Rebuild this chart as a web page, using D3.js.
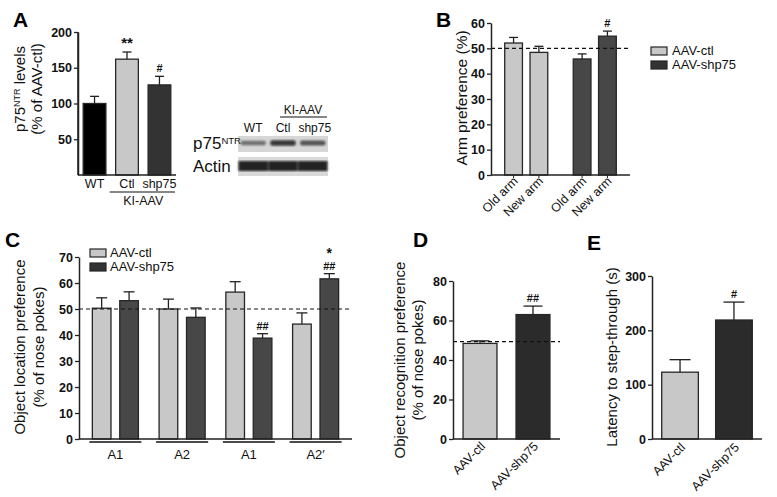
<!DOCTYPE html>
<html><head><meta charset="utf-8">
<script src="https://cdn.jsdelivr.net/npm/d3@7/dist/d3.min.js"></script>
<style>body{margin:0;background:#fff}svg{display:block}</style>
</head><body>
<svg id="fig" width="777" height="497"></svg>
<script>
// ---------- DATA ----------
const panelA_categories = ["WT", "Ctl", "shp75"];
const panelA_values = [100, 162, 126];
const panelA_errors = [10, 10, 12];
const panelA_sig = ["", "**", "#"];
const panelA_ticks = [50, 100, 150, 200];

const blot_lanes = ["WT", "Ctl", "shp75"];
const blot_p75 = [0.55, 0.85, 0.7];
const blot_actin = [0.95, 0.95, 0.95];

const panelB_categories = ["Old arm", "New arm", "Old arm", "New arm"];
const panelB_groups = ["AAV-ctl", "AAV-shp75"];
const panelB_values = [52.1, 48.4, 45.8, 54.8];
const panelB_errors = [2.2, 2.4, 2.0, 2.0];
const panelB_sig = ["", "", "", "#"];
const panelB_ticks = [0, 10, 20, 30, 40, 50, 60];

const panelC_groups = ["A1", "A2", "A1", "A2\u2032"];
const panelC_series = ["AAV-ctl", "AAV-shp75"];
const panelC_ctl = [50.3, 50.0, 56.5, 44.2];
const panelC_ctlErr = [4.0, 3.8, 4.0, 4.3];
const panelC_shp = [53.2, 46.8, 38.8, 61.6];
const panelC_shpErr = [3.4, 3.6, 1.7, 2.0];
const panelC_sig = ["", "", "##", "##"];
const panelC_ticks = [0, 10, 20, 30, 40, 50, 60, 70];

const panelD_categories = ["AAV-ctl", "AAV-shp75"];
const panelD_values = [48.4, 63.0];
const panelD_errors = [1.3, 4.3];
const panelD_sig = ["", "##"];
const panelD_ticks = [0, 20, 40, 60, 80];

const panelE_categories = ["AAV-ctl", "AAV-shp75"];
const panelE_values = [123, 219];
const panelE_errors = [23, 33];
const panelE_sig = ["", "#"];
const panelE_ticks = [0, 100, 200, 300];

// ---------- STYLE ----------
const FONT = "'Liberation Sans', Arial, Helvetica, sans-serif";
const LIGHT = "#c8c8c8", DARK = "#474747", DARKER = "#2b2b2b", EDGE = "#262626";
const svg = d3.select("#fig").attr("font-family", FONT);

function yAxis(scale, x, ticks) {
  const g = svg.append("g").attr("transform", `translate(${x},0)`)
    .call(d3.axisLeft(scale).tickValues(ticks).tickSize(4).tickSizeOuter(0).tickPadding(2));
  g.select(".domain").attr("stroke", "#222").attr("stroke-width", 1.5);
  g.selectAll(".tick line").attr("stroke", "#222").attr("stroke-width", 1.3);
  g.selectAll(".tick text").attr("font-family", FONT).attr("font-weight", "bold")
    .attr("font-size", 12.5).attr("fill", "#111");
  return g;
}
function baseline(x1, x2, y) {
  svg.append("line").attr("x1", x1).attr("x2", x2).attr("y1", y).attr("y2", y)
    .attr("stroke", "#222").attr("stroke-width", 1.5);
}
function bars(items, y) {
  const g = svg.append("g");
  g.selectAll("line.err").data(items).join("line")
    .attr("x1", d => d.x + d.w / 2).attr("x2", d => d.x + d.w / 2)
    .attr("y1", d => y(d.v)).attr("y2", d => y(d.v + d.e))
    .attr("stroke", "#222").attr("stroke-width", 1.3);
  g.selectAll("line.cap").data(items).join("line")
    .attr("x1", d => d.x + d.w / 2 - d.cap / 2).attr("x2", d => d.x + d.w / 2 + d.cap / 2)
    .attr("y1", d => y(d.v + d.e)).attr("y2", d => y(d.v + d.e))
    .attr("stroke", "#222").attr("stroke-width", 1.3);
  g.selectAll("rect").data(items).join("rect")
    .attr("x", d => d.x).attr("width", d => d.w)
    .attr("y", d => y(d.v)).attr("height", d => y(0) - y(d.v))
    .attr("fill", d => d.fill).attr("stroke", EDGE).attr("stroke-width", 1.3);
  g.selectAll("text").data(items.filter(d => d.sig)).join("text")
    .attr("x", d => d.x + d.w / 2).attr("y", d => y(d.v + d.e) - 4)
    .attr("text-anchor", "middle").attr("font-size", d => d.sig.includes("*") ? 15 : 11)
    .attr("font-weight", "bold").attr("fill", "#111").text(d => d.sig);
}
function dashed(x1, x2, yv) {
  svg.append("line").attr("x1", x1).attr("x2", x2).attr("y1", yv).attr("y2", yv)
    .attr("stroke", "#111").attr("stroke-width", 1.2).attr("stroke-dasharray", "4,3");
}
function yTitle(lines, xs, cy, size) {
  lines.forEach((t, i) => {
    svg.append("text").attr("transform", `translate(${xs[i]},${cy}) rotate(-90)`)
      .attr("text-anchor", "middle").attr("font-size", size).attr("fill", "#111").text(t);
  });
}
function letter(t, x, y) {
  svg.append("text").attr("x", x).attr("y", y).attr("font-size", 21)
    .attr("font-weight", "bold").attr("fill", "#000").text(t);
}
function rotLabels(cats, xs, y, dx) {
  cats.forEach((c, i) => {
    svg.append("text").attr("transform", `translate(${xs[i] + dx},${y}) rotate(-45)`)
      .attr("text-anchor", "end").attr("font-size", 12.5).attr("fill", "#111").text(c);
  });
}

// ---------- PANEL A ----------
letter("A", 13, 27);
const yA = d3.scaleLinear().domain([0, 200]).range([175, 32]);
const xA = d3.scaleBand().domain(panelA_categories).range([78, 176]).paddingInner(0.3).paddingOuter(0.16);
const colA = ["#000000", LIGHT, "#333333"];
bars(panelA_categories.map((c, i) => ({x: xA(c), w: xA.bandwidth(), v: panelA_values[i], e: panelA_errors[i],
  fill: colA[i], sig: panelA_sig[i], cap: 9})), yA);
yAxis(yA, 78, panelA_ticks);
svg.append("line").attr("x1", 78).attr("x2", 78).attr("y1", yA(0)).attr("y2", yA(200)).attr("stroke", "#222").attr("stroke-width", 1.5);
baseline(78, 176, yA(0));
panelA_categories.forEach(c => {
  svg.append("text").attr("x", xA(c) + xA.bandwidth() / 2).attr("y", 188).attr("text-anchor", "middle")
    .attr("font-size", 12.5).attr("fill", "#111").text(c);
});
svg.append("line").attr("x1", xA("Ctl") - 6).attr("x2", 175).attr("y1", 192).attr("y2", 192).attr("stroke", "#111").attr("stroke-width", 1.2);
svg.append("text").attr("x", (xA("Ctl") + xA("shp75") + xA.bandwidth()) / 2).attr("y", 205).attr("text-anchor", "middle")
  .attr("font-size", 12.5).attr("fill", "#111").text("KI-AAV");
{
  const t = svg.append("text").attr("transform", "translate(25,89) rotate(-90)").attr("text-anchor", "middle")
    .attr("font-size", 15).attr("fill", "#111");
  t.append("tspan").text("p75");
  t.append("tspan").attr("baseline-shift", "super").attr("font-size", 9).text("NTR");
  t.append("tspan").text(" levels");
  svg.append("text").attr("transform", "translate(42,89) rotate(-90)").attr("text-anchor", "middle")
    .attr("font-size", 15).attr("fill", "#111").text("(% of AAV-ctl)");
}

// ---------- WESTERN BLOT ----------
const defs = svg.append("defs");
defs.append("filter").attr("id", "blur").append("feGaussianBlur").attr("stdDeviation", 1.2);
const xBlot = d3.scaleBand().domain(blot_lanes).range([238, 328]).paddingInner(0.08).paddingOuter(0.05);
svg.append("rect").attr("x", 238).attr("y", 136).attr("width", 90).attr("height", 16).attr("fill", "#d6d6d6");
svg.append("rect").attr("x", 238).attr("y", 157).attr("width", 90).attr("height", 19).attr("fill", "#d9d9d9");
const band = d3.scaleLinear().domain([0, 1]).range(["#d6d6d6", "#1a1a1a"]);
svg.append("g").attr("filter", "url(#blur)").selectAll("rect").data(blot_lanes).join("rect")
  .attr("x", d => xBlot(d) + 1).attr("width", xBlot.bandwidth() - 2)
  .attr("y", (d, i) => 143 - 1.5 - blot_p75[i] * 1.5).attr("height", (d, i) => 3 + blot_p75[i] * 3)
  .attr("rx", 2).attr("fill", (d, i) => band(blot_p75[i]));
svg.append("g").attr("filter", "url(#blur)").selectAll("rect").data(blot_lanes).join("rect")
  .attr("x", d => xBlot(d) - 1).attr("width", xBlot.bandwidth() + 2)
  .attr("y", 161).attr("height", 10)
  .attr("fill", (d, i) => band(blot_actin[i]));
blot_lanes.forEach(l => {
  svg.append("text").attr("x", xBlot(l) + xBlot.bandwidth() / 2 + (l === "shp75" ? 2 : 0)).attr("y", 132).attr("text-anchor", "middle")
    .attr("font-size", 12).attr("fill", "#111").text(l);
});
svg.append("line").attr("x1", 280).attr("x2", 327).attr("y1", 117).attr("y2", 117).attr("stroke", "#111").attr("stroke-width", 1.2);
svg.append("text").attr("x", 303).attr("y", 114).attr("text-anchor", "middle").attr("font-size", 12).attr("fill", "#111").text("KI-AAV");
{
  const t = svg.append("text").attr("x", 193).attr("y", 149).attr("font-size", 17).attr("fill", "#111");
  t.append("tspan").text("p75");
  t.append("tspan").attr("baseline-shift", "super").attr("font-size", 9.5).text("NTR");
  svg.append("text").attr("x", 193).attr("y", 172).attr("font-size", 17).attr("fill", "#111").text("Actin");
}

// ---------- PANEL B ----------
letter("B", 436, 27);
const yB = d3.scaleLinear().domain([0, 60]).range([175, 23]);
const xBg = d3.scaleBand().domain(panelB_groups).range([491, 630]).paddingInner(0.372).paddingOuter(0.2);
const xBi = d3.scaleBand().domain([0, 1]).range([0, xBg.bandwidth()]).paddingInner(0.3).paddingOuter(0);
const itemsB = panelB_categories.map((c, i) => {
  const gname = panelB_groups[Math.floor(i / 2)];
  return {x: xBg(gname) + xBi(i % 2), w: xBi.bandwidth(), v: panelB_values[i], e: panelB_errors[i],
    fill: i < 2 ? LIGHT : DARK, sig: panelB_sig[i], cap: 9};
});
bars(itemsB, yB);
dashed(491, 630, yB(50));
yAxis(yB, 491, panelB_ticks);
baseline(491, 630, yB(0));
itemsB.forEach(d => {
  svg.append("line").attr("x1", d.x + d.w / 2).attr("x2", d.x + d.w / 2).attr("y1", yB(0)).attr("y2", yB(0) + 3)
    .attr("stroke", "#222").attr("stroke-width", 1);
});
rotLabels(panelB_categories, itemsB.map(d => d.x + d.w / 2), 182, 5);
yTitle(["Arm preference (%)"], [467], 98, 15.5);
[LIGHT, DARK].forEach((c, i) => {
  svg.append("rect").attr("x", 651).attr("y", 47 + i * 14).attr("width", 16).attr("height", 8)
    .attr("fill", i === 0 ? LIGHT : "#333").attr("stroke", EDGE).attr("stroke-width", 1.2);
  svg.append("text").attr("x", 672).attr("y", 55 + i * 14).attr("font-size", 13).attr("fill", "#111").text(panelB_groups[i]);
});

// ---------- PANEL C ----------
letter("C", 5, 247);
const yC = d3.scaleLinear().domain([0, 70]).range([439, 257]);
const xCg = d3.scaleBand().domain(d3.range(panelC_groups.length)).range([79, 352]).paddingInner(0.31).paddingOuter(0.2);
const xCi = d3.scaleBand().domain([0, 1]).range([0, xCg.bandwidth()]).paddingInner(0.32).paddingOuter(0);
const itemsC = [];
panelC_groups.forEach((g, i) => {
  itemsC.push({x: xCg(i) + xCi(0), w: xCi.bandwidth(), v: panelC_ctl[i], e: panelC_ctlErr[i], fill: LIGHT, sig: "", cap: 11});
  itemsC.push({x: xCg(i) + xCi(1), w: xCi.bandwidth(), v: panelC_shp[i], e: panelC_shpErr[i], fill: DARK, sig: panelC_sig[i], cap: 11});
});
bars(itemsC, yC);
{
  const d = itemsC[7];
  svg.append("text").attr("x", d.x + d.w / 2).attr("y", yC(d.v + d.e) - 16).attr("text-anchor", "middle")
    .attr("font-size", 14).attr("font-weight", "bold").attr("fill", "#111").text("*");
}
dashed(79, 352, yC(50));
yAxis(yC, 79, panelC_ticks);
baseline(79, 352, yC(0));
panelC_groups.forEach((g, i) => {
  svg.append("line").attr("x1", xCg(i) - 3).attr("x2", xCg(i) + xCg.bandwidth() + 3).attr("y1", 442).attr("y2", 442)
    .attr("stroke", "#111").attr("stroke-width", 1.5);
  svg.append("text").attr("x", xCg(i) + xCg.bandwidth() / 2).attr("y", 459).attr("text-anchor", "middle")
    .attr("font-size", 13).attr("fill", "#111").text(g);
});
yTitle(["Object location preference", "(% of nose pokes)"], [25, 44], 347, 15);
[LIGHT, "#333"].forEach((c, i) => {
  svg.append("rect").attr("x", 90).attr("y", 249 + i * 14).attr("width", 16).attr("height", 8)
    .attr("fill", c).attr("stroke", EDGE).attr("stroke-width", 1.2);
  svg.append("text").attr("x", 110).attr("y", 257 + i * 14).attr("font-size", 13).attr("fill", "#111").text(panelC_series[i]);
});

// ---------- PANEL D ----------
letter("D", 413, 247);
const yD = d3.scaleLinear().domain([0, 80]).range([439, 281]);
const xD = d3.scaleBand().domain(panelD_categories).range([453, 560]).paddingInner(0.36).paddingOuter(0.19);
bars(panelD_categories.map((c, i) => ({x: xD(c), w: xD.bandwidth(), v: panelD_values[i], e: panelD_errors[i],
  fill: i === 0 ? LIGHT : DARKER, sig: panelD_sig[i], cap: 19})), yD);
dashed(453, 560, yD(49.3));
yAxis(yD, 453, panelD_ticks);
baseline(453, 560, yD(0));
rotLabels(panelD_categories, panelD_categories.map(c => xD(c) + xD.bandwidth() / 2), 447, 6);
yTitle(["Object recognition preference", "(% of nose pokes)"], [405, 423], 360, 15);

// ---------- PANEL E ----------
letter("E", 587, 250);
const yE = d3.scaleLinear().domain([0, 300]).range([439, 276]);
const xE = d3.scaleBand().domain(panelE_categories).range([652, 762]).paddingInner(0.32).paddingOuter(0.18);
bars(panelE_categories.map((c, i) => ({x: xE(c), w: xE.bandwidth(), v: panelE_values[i], e: panelE_errors[i],
  fill: i === 0 ? LIGHT : DARKER, sig: panelE_sig[i], cap: 21})), yE);
yAxis(yE, 652, panelE_ticks);
baseline(652, 762, yE(0));
rotLabels(panelE_categories, panelE_categories.map(c => xE(c) + xE.bandwidth() / 2), 448, 6);
yTitle(["Latency to step-through (s)"], [617], 357, 15);
</script>
</body></html>
